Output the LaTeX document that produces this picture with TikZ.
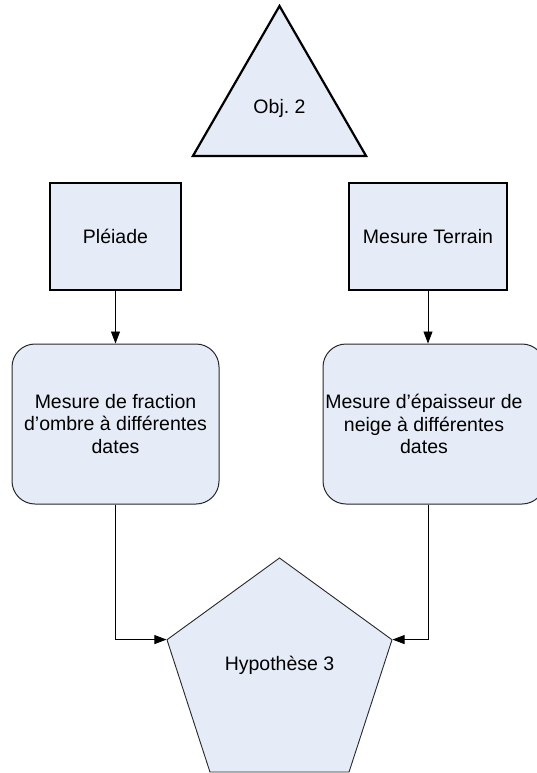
\documentclass[tikz,border=0pt]{standalone}
\usepackage{fontspec}
\setmainfont{Liberation Sans}
\frenchspacing
\usetikzlibrary{shapes.geometric,arrows.meta}
\definecolor{shapefill}{RGB}{230,236,247}
\definecolor{edgegray}{RGB}{40,40,40}
\begin{document}
\begin{tikzpicture}[x=1pt,y=-1pt,
  txt/.style={font=\fontsize{19.5}{22.7}\selectfont, align=center, inner sep=0pt},
  thickbox/.style={draw=black, line width=2.2pt, fill=shapefill, inner sep=0pt, txt},
  rbox/.style={draw=edgegray, line width=1pt, fill=shapefill, rounded corners=23pt, inner sep=0pt, minimum height=160pt},
  conn/.style={draw=black, line width=0.8pt, -{Triangle[length=12pt,width=9pt]}},
  plain/.style={draw=black, line width=0.8pt}]
\useasboundingbox (0,0) rectangle (537,773);
\fill[white] (0,0) rectangle (537,773);
% triangle
\node[thickbox, regular polygon, regular polygon sides=3, minimum size=200pt, line join=miter] (obj) at (279.5,106) {};
\node[txt] (objt) at (279.5,108) {Obj. 2};
% top rectangles
\node[thickbox, minimum width=131pt, minimum height=107pt] (ple) at (115.5,236.5) {Pléiade};
\node[thickbox, minimum width=158pt, minimum height=107pt] (mt) at (428,236.5) {Mesure Terrain};
% rounded boxes
\node[rbox, minimum width=207pt] (rl) at (115.5,424) {};
\node[txt] (rlt) at (115.5,424) {Mesure de fraction\\d’ombre à différentes\\dates};
\node[rbox, minimum width=222pt] (rr) at (434,424) {};
\node[txt] (rrt) at (424,424) {Mesure d’épaisseur de\\neige à différentes\\dates};
% pentagon
\node[regular polygon, regular polygon sides=5, minimum size=236.6pt, draw=edgegray, line width=0.9pt, fill=shapefill, inner sep=0pt] (hyp) at (279.5,676.3) {};
\node[txt] (hypt) at (279.5,665) {Hypothèse 3};
% connectors
\draw[conn] (ple.south) -- (ple.south |- rl.north);
\draw[conn] (mt.south) -- (mt.south |- rr.north);
\coordinate (hl) at (hyp.162);
\coordinate (hr) at (hyp.18);
\draw[conn] (rl.south) -- (rl.south |- hl) -- (hl);
\draw[conn] (mt.south |- rr.south) -- (mt.south |- hr) -- (hr);
\end{tikzpicture}
\end{document}
